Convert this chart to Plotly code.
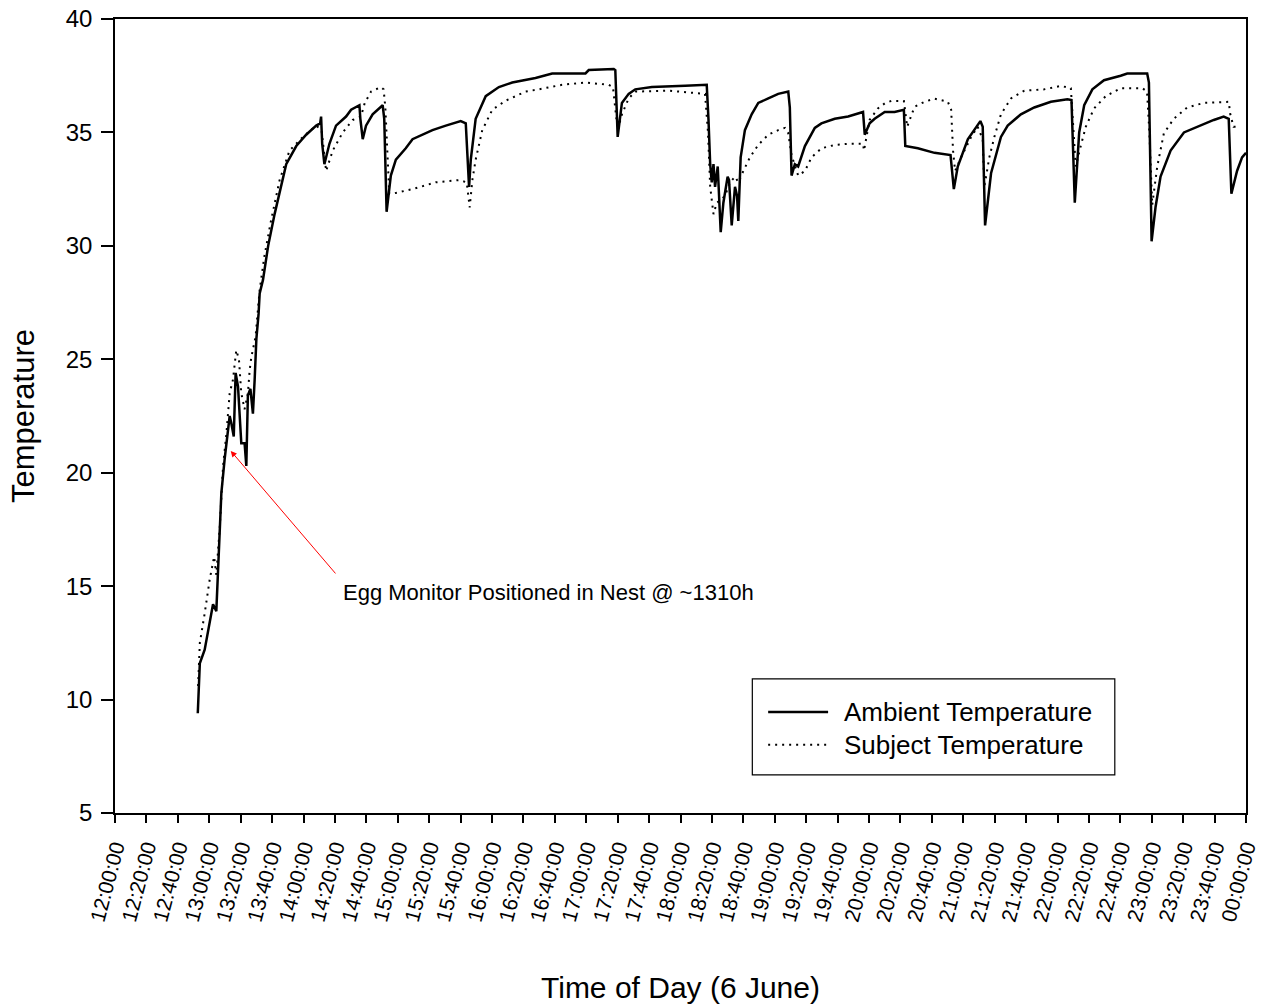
import plotly.graph_objects as go

# Minutes after 12:00 on 6 June, and temperatures (°C)
ambient_min = [52.7, 54.0, 57.1, 62.4, 64.5, 66.2, 67.7, 69.8, 73.0, 74.0, 75.6, 76.8, 78.3, 80.4, 82.5,
               83.6, 84.6, 86.2, 87.8, 88.9, 90.0, 91.4, 92.1, 94.2, 97.5, 101.6, 104.8, 109.0, 115.4,
               121.7, 128.1, 130.6, 131.2, 131.9, 133.3, 136.5, 140.7, 147.1, 150.3, 155.6, 156.2, 157.7,
               159.8, 164.0, 170.4, 171.4, 172.9, 175.6, 178.8, 185.1, 189.4, 195.7, 202.1, 210.6, 220.1,
               223.3, 225.4, 226.5, 229.6, 236.0, 244.4, 252.9, 260.0, 267.7, 278.3, 299.5, 301.6, 317.5,
               318.5, 320.0, 322.7, 327.0, 331.2, 341.8, 363.0, 376.7, 377.8, 378.9, 379.9, 381.0, 382.0,
               383.7, 385.6, 387.3, 390.0, 390.9, 392.6, 394.7, 396.0, 396.8, 398.3, 401.0, 405.3, 409.5,
               415.9, 422.2, 428.6, 429.6, 430.7, 432.8, 434.9, 439.2, 445.5, 449.7, 458.2, 466.7, 476.2,
               477.3, 480.4, 483.6, 490.0, 496.3, 502.2, 503.1, 511.1, 521.7, 531.9, 534.0, 536.5, 542.9,
               550.9, 552.4, 553.9, 557.7, 564.0, 568.3, 576.7, 585.2, 595.8, 606.3, 608.9, 611.0, 613.8,
               617.0, 622.2, 629.6, 640.2, 644.4, 657.1, 658.2, 659.9, 662.4, 665.6, 672.0, 680.5, 688.9,
               699.5, 705.8, 709.0, 710.7, 714.3, 717.5, 720.0]
ambient_temp = [9.4, 11.6, 12.2, 14.2, 13.9, 17.0, 19.1, 20.6, 22.5, 22.2, 21.6, 24.4, 23.8, 21.3, 21.3,
                20.3, 23.4, 23.7, 22.6, 24.1, 25.9, 27.0, 27.9, 28.5, 30.0, 31.4, 32.4, 33.6, 34.4,
                34.9, 35.3, 35.4, 35.7, 34.5, 33.6, 34.5, 35.3, 35.7, 36.0, 36.2, 35.6, 34.7,
                35.3, 35.8, 36.2, 35.6, 31.5, 33.1, 33.8, 34.3, 34.7, 34.9, 35.1, 35.3, 35.5,
                35.4, 32.6, 33.8, 35.6, 36.6, 37.0, 37.2, 37.3, 37.4, 37.6, 37.6, 37.75, 37.8,
                37.75, 34.8, 36.3, 36.7, 36.9, 37.0, 37.06, 37.1, 35.6, 33.6, 32.8, 33.6, 32.6,
                33.5, 30.6, 31.9, 33.05, 32.9, 30.9, 32.6, 32.2, 31.1, 33.9, 35.1, 35.8, 36.3,
                36.5, 36.7, 36.8, 36.1, 33.1, 33.6, 33.5, 34.4, 35.2, 35.4, 35.6, 35.7, 35.9,
                34.9, 35.4, 35.6, 35.9, 35.9, 36.0, 34.4, 34.3, 34.1, 34.0, 32.5, 33.5, 34.7,
                35.5, 35.25, 30.9, 33.2, 34.8, 35.3, 35.8, 36.1, 36.35, 36.46, 36.43, 31.9, 35.0,
                36.2, 36.9, 37.3, 37.5, 37.6, 37.6, 37.2, 30.2, 31.7, 33.05, 34.2, 35.0, 35.25,
                35.55, 35.7, 35.6, 32.3, 33.3, 33.9, 34.1]

subject_min = [52.9, 54.0, 57.1, 60.3, 63.1, 64.5, 66.7, 68.8, 70.9, 73.0, 75.1, 77.2, 78.9, 80.4, 82.5,
               84.6, 85.7, 86.8, 89.5, 92.0, 95.0, 99.0, 104.8, 111.1, 119.6, 128.1, 131.5, 134.4, 138.6,
               145.0, 151.3, 156.6, 159.0, 163.0, 169.3, 171.0, 172.1, 173.5, 174.6, 176.7, 189.4, 204.2,
               219.0, 223.9, 225.8, 227.5, 229.6, 233.8, 240.2, 248.7, 261.4, 269.8, 284.6, 299.5, 314.3,
               317.0, 320.0, 322.7, 327.0, 331.2, 352.4, 375.6, 377.5, 378.9, 381.0, 383.1, 385.2, 388.3,
               391.5, 394.7, 396.8, 400.0, 404.2, 409.5, 415.9, 422.2, 426.5, 428.5, 430.7, 432.5, 434.9,
               439.2, 443.4, 449.7, 458.2, 466.7, 476.2, 476.8, 480.4, 485.7, 490.0, 494.2, 502.2, 504.3,
               509.0, 515.3, 521.7, 530.2, 532.3, 533.5, 534.8, 538.6, 545.0, 549.2, 552.4, 553.4, 556.6,
               559.8, 564.0, 570.4, 578.9, 591.6, 602.1, 608.5, 609.5, 611.6, 614.8, 618.0, 623.3, 630.7,
               640.2, 654.0, 657.0, 658.5, 660.3, 663.5, 667.7, 674.0, 682.5, 693.1, 709.0, 710.0, 712.1,
               716.3]
subject_temp = [10.6, 12.5, 13.8, 15.3, 16.3, 15.5, 17.6, 20.3, 21.7, 23.5, 24.1, 25.4, 25.0, 23.5, 22.8,
                23.5, 24.5, 25.1, 26.0, 28.0, 29.5, 31.0, 32.9, 34.2, 34.8, 35.3, 35.1, 33.3, 34.2,
                35.0, 35.55, 35.7, 36.3, 36.8, 37.0, 36.9, 36.1, 34.0, 32.3, 32.3, 32.5, 32.8,
                32.9, 32.8, 31.7, 32.9, 33.8, 35.1, 36.0, 36.4, 36.8, 36.9, 37.1, 37.2, 37.1,
                37.0, 35.1, 35.8, 36.5, 36.8, 36.84, 36.7, 35.0, 32.6, 31.4, 31.9, 32.0, 32.2,
                32.8, 33.05, 32.8, 33.3, 33.9, 34.45, 34.9, 35.1, 35.2, 35.0, 34.0, 33.6, 33.1,
                33.3, 33.9, 34.3, 34.45, 34.5, 34.5, 34.2, 35.55, 36.06, 36.28, 36.39, 36.39, 35.25,
                36.13, 36.35, 36.49, 36.35, 36.0, 34.2, 33.3, 33.9, 34.8, 35.25, 34.7, 32.6, 33.9,
                34.8, 35.8, 36.5, 36.84, 36.9, 37.05, 36.95, 35.7, 33.5, 34.4, 35.25, 36.06, 36.6,
                36.95, 36.95, 36.8, 35.0, 31.8, 33.5, 34.96, 35.6, 36.1, 36.3, 36.35, 35.8, 35.25,
                35.25]

tick_minutes = list(range(0, 721, 20))
tick_labels = [f"{(12 + m // 60) % 24:02d}:{m % 60:02d}:00" for m in tick_minutes]

note_text = "Egg Monitor Positioned in Nest @ ~1310h"
note_point = (73.7, 20.96)
series_names = ["Ambient Temperature", "Subject Temperature"]

FONT = "Liberation Sans, Arial, sans-serif"

fig = go.Figure()
fig.add_trace(go.Scatter(x=ambient_min, y=ambient_temp, mode="lines", name=series_names[0],
                         line=dict(color="black", width=2.5), showlegend=False))
fig.add_trace(go.Scatter(x=subject_min, y=subject_temp, mode="lines", name=series_names[1],
                         line=dict(color="black", width=2, dash="2px,5px"), showlegend=False))

# Arrow pointing at the moment the egg monitor was placed
fig.add_annotation(x=note_point[0], y=note_point[1], xref="x", yref="y", text="",
                   showarrow=True, arrowhead=2, arrowsize=1.2, arrowwidth=1, arrowcolor="red",
                   ax=106, ay=124)
fig.add_annotation(x=144, y=14.74, xref="x", yref="y", text=note_text, showarrow=False,
                   xanchor="left", yanchor="middle", font=dict(size=22, color="black", family=FONT))

# Boxed legend
fig.add_shape(type="rect", xref="paper", yref="paper", x0=0.5635, x1=0.884, y0=0.0479, y1=0.1688,
              line=dict(color="black", width=1.2), fillcolor="white")
fig.add_shape(type="line", xref="paper", yref="paper", x0=0.5775, x1=0.6305, y0=0.1272, y1=0.1272,
              line=dict(color="black", width=2.5))
fig.add_shape(type="line", xref="paper", yref="paper", x0=0.5775, x1=0.6305, y0=0.0860, y1=0.0860,
              line=dict(color="black", width=2, dash="2px,5px"))
for name, yy in zip(series_names, [0.1272, 0.0860]):
    fig.add_annotation(x=0.643, y=yy, xref="paper", yref="paper", text=name, showarrow=False,
                       xanchor="left", yanchor="middle", font=dict(size=26, color="black", family=FONT))

fig.update_layout(
    width=1261, height=1004,
    margin=dict(l=115, r=15, t=19, b=191),
    paper_bgcolor="white", plot_bgcolor="white",
    font=dict(family=FONT, color="black"),
)
fig.update_xaxes(range=[0, 720], tickvals=tick_minutes, ticktext=tick_labels, tickangle=-75,
                 tickfont=dict(size=21), ticks="outside", ticklen=8, tickwidth=1.5, tickcolor="black",
                 ticklabeloverflow="allow", ticklabelstandoff=4, automargin=False,
                 showline=True, linecolor="black", linewidth=1.5, mirror=True, showgrid=False,
                 zeroline=False, title=dict(text="Time of Day (6 June)", font=dict(size=30), standoff=55))
fig.update_yaxes(range=[5, 40], dtick=5, tickfont=dict(size=24), ticks="outside", ticklen=12,
                 tickwidth=1.5, tickcolor="black", ticklabelstandoff=4, automargin=False,
                 showline=True, linecolor="black", linewidth=1.5,
                 mirror=True, showgrid=False, zeroline=False,
                 title=dict(text="Temperature", font=dict(size=31), standoff=22))

fig.write_html("out.html")
